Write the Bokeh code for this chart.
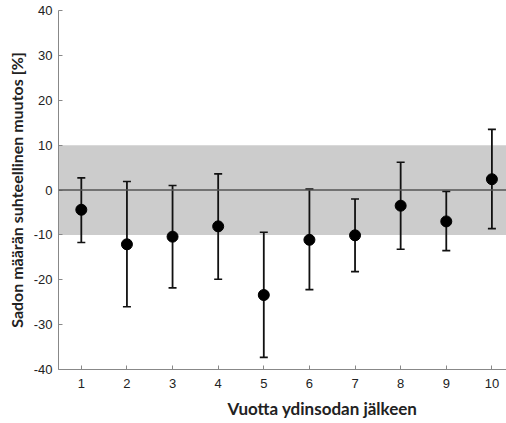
from bokeh.plotting import figure
from bokeh.models import (Range1d, FixedTicker, BoxAnnotation, Span, Title,
                          ColumnDataSource)
from bokeh.embed import file_html
from bokeh.resources import INLINE

# Data
years = [1, 2, 3, 4, 5, 6, 7, 8, 9, 10]
mean_change = [-4.4, -12.1, -10.4, -8.1, -23.4, -11.1, -10.1, -3.5, -7.0, 2.4]
upper_err = [2.7, 1.9, 1.0, 3.6, -9.4, 0.2, -2.0, 6.2, -0.3, 13.5]
lower_err = [-11.7, -26.0, -21.8, -19.9, -37.3, -22.2, -18.2, -13.2, -13.5, -8.6]
band_low, band_high = -10, 10
y_ticks = [-40, -30, -20, -10, 0, 10, 20, 30, 40]
y_tick_labels = {t: str(t) for t in y_ticks}
x_title = "Vuotta ydinsodan jälkeen"
y_title = "Sadon määrän suhteellinen muutos [%]"

src = ColumnDataSource(dict(x=years, y=mean_change, up=upper_err, lo=lower_err))

p = figure(width=506, height=423, output_backend="svg", toolbar_location=None,
           x_range=Range1d(0.5, 10.32), y_range=Range1d(-40, 40))
p.min_border_left = 58
p.min_border_right = 0
p.min_border_top = 10
p.min_border_bottom = 54
p.outline_line_color = None
p.xgrid.grid_line_color = None
p.ygrid.grid_line_color = None
p.background_fill_color = "white"
p.border_fill_color = "white"

band = BoxAnnotation(bottom=band_low, top=band_high, fill_color="#cccccc",
                     fill_alpha=1.0, line_color=None, level="underlay")
p.add_layout(band)
p.add_layout(Span(location=0, dimension="width", line_color="#555555",
                  line_width=1.6))

p.segment(x0="x", y0="lo", x1="x", y1="up", source=src, line_color="#111111",
          line_width=1.8)
p.scatter(x="x", y="up", source=src, marker="dash", size=8,
          line_color="#111111", line_width=1.6)
p.scatter(x="x", y="lo", source=src, marker="dash", size=8,
          line_color="#111111", line_width=1.6)
p.scatter(x="x", y="y", source=src, marker="circle", size=11,
          fill_color="#000000", line_color="#000000")

for ax in (p.xaxis[0], p.yaxis[0]):
    ax.axis_line_color = "#888888"
    ax.major_tick_line_color = "#888888"
    ax.major_tick_in = 4
    ax.major_tick_out = 0
    ax.minor_tick_line_color = None
    ax.major_label_text_font = "Liberation Sans"
    ax.major_label_text_font_size = "13px"
    ax.major_label_text_color = "#222222"

p.xaxis.ticker = FixedTicker(ticks=years)
p.yaxis.ticker = FixedTicker(ticks=y_ticks)
p.yaxis.major_label_overrides = y_tick_labels
p.xaxis.major_label_standoff = 9
p.yaxis.major_label_standoff = 6

p.yaxis.axis_label = y_title
p.yaxis.axis_label_text_font = "Lato"
p.yaxis.axis_label_text_font_style = "bold"
p.yaxis.axis_label_text_font_size = "16px"
p.yaxis.axis_label_text_color = "#222222"
p.yaxis.axis_label_standoff = 5

p.add_layout(Title(text=x_title, align="left", offset=169, standoff=10,
                   text_font="Lato", text_font_style="bold",
                   text_font_size="17px", text_color="#222222"), "below")

open("out.html", "w").write(file_html(p, INLINE))
